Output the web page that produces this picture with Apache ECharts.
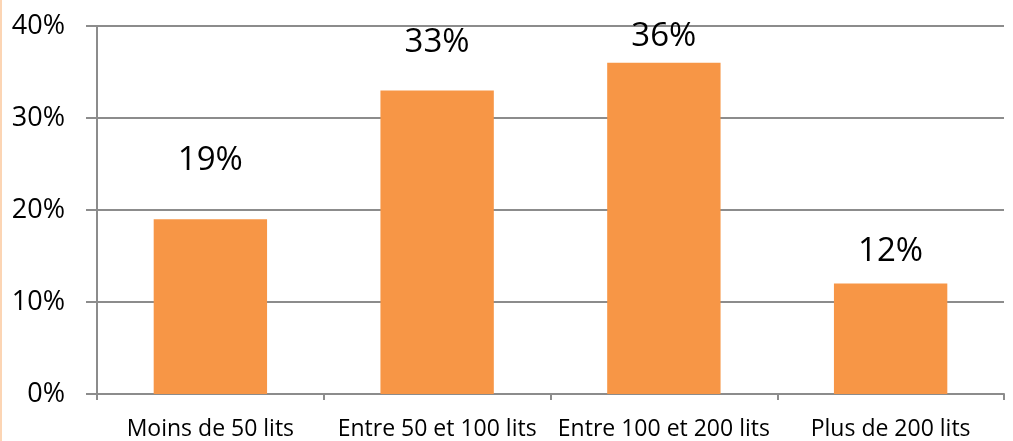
<!DOCTYPE html>
<html>
<head>
<meta charset="utf-8">
<script src="https://cdn.jsdelivr.net/npm/echarts@6/dist/echarts.min.js"></script>
<style>
html,body{margin:0;padding:0;background:#fff;}
#chart{width:1013px;height:441px;}
</style>
</head>
<body>
<div id="chart"></div>
<script>
var categories = ['Moins de 50 lits', 'Entre 50 et 100 lits', 'Entre 100 et 200 lits', 'Plus de 200 lits'];
var values = [19, 33, 36, 12];
var yTicks = [0, 10, 20, 30, 40];

// label placement above each bar (manual offsets, as in the original)
var labelGaps = [42, 31, 10, 16];

var FONT = '"Open Sans", "Liberation Sans", sans-serif';
var chart = echarts.init(document.getElementById('chart'), null, {renderer: 'canvas'});
chart.setOption({
  animation: false,
  backgroundColor: '#ffffff',
  graphic: [{
    type: 'rect', left: 0, top: 0,
    shape: {x: 0, y: 0, width: 2, height: 441},
    style: {fill: '#fcd5b4'}
  }],
  grid: {left: 97, right: 9, top: 26, bottom: 45, containLabel: false},
  xAxis: {
    type: 'category',
    data: categories,
    boundaryGap: true,
    axisLine: {show: true, lineStyle: {color: '#8c8c8c', width: 2}},
    axisTick: {show: true, alignWithLabel: false, length: 6, lineStyle: {color: '#8c8c8c', width: 2}},
    axisLabel: {color: '#000', fontFamily: FONT, fontSize: 23, margin: 24, interval: 0}
  },
  yAxis: {
    type: 'value',
    min: yTicks[0],
    max: yTicks[yTicks.length - 1],
    interval: yTicks[1] - yTicks[0],
    axisLine: {show: true, lineStyle: {color: '#8c8c8c', width: 2}},
    axisTick: {show: true, length: 11, lineStyle: {color: '#8c8c8c', width: 2}},
    axisLabel: {color: '#000', fontFamily: FONT, fontSize: 27, margin: 32, formatter: '{value}%'},
    splitLine: {show: true, lineStyle: {color: '#8c8c8c', width: 2}}
  },
  series: [{
    type: 'bar',
    barWidth: '50%',
    data: values.map(function (v, i) {
      return {
        value: v,
        label: {show: true, position: 'top', distance: labelGaps[i]}
      };
    }),
    itemStyle: {color: '#f79646'},
    label: {
      show: true, position: 'top', formatter: '{c}%',
      color: '#000', fontFamily: FONT, fontSize: 33, lineHeight: 33
    }
  }]
});
</script>
</body>
</html>
